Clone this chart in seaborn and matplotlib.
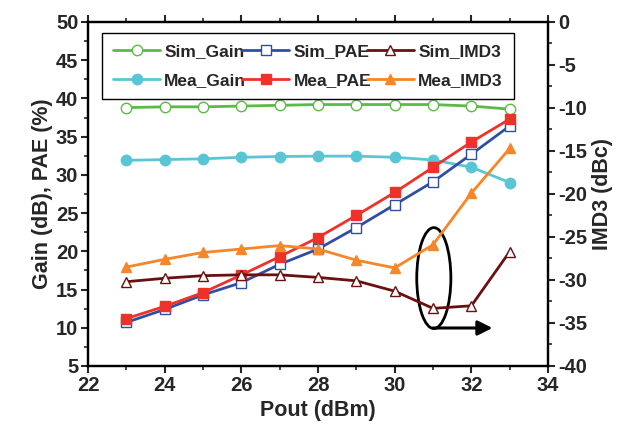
import matplotlib
matplotlib.use("Agg")
import matplotlib.pyplot as plt
import seaborn as sns
import numpy as np
import pandas as pd
from matplotlib.patches import Ellipse
from matplotlib.ticker import MultipleLocator

pout = [23, 24, 25, 26, 27, 28, 29, 30, 31, 32, 33]
sim_gain = [38.8, 38.9, 38.9, 39.0, 39.1, 39.2, 39.2, 39.2, 39.2, 39.0, 38.6]
mea_gain = [31.9, 32.0, 32.1, 32.3, 32.4, 32.45, 32.45, 32.3, 31.95, 31.0, 29.0]
sim_pae = [10.7, 12.4, 14.3, 15.9, 18.3, 20.3, 23.1, 26.1, 29.1, 32.7, 36.4]
mea_pae = [11.2, 12.8, 14.6, 16.9, 19.3, 21.8, 24.7, 27.7, 31.0, 34.3, 37.3]
sim_imd3 = [-30.2, -29.8, -29.5, -29.4, -29.4, -29.7, -30.1, -31.3, -33.3, -33.0, -26.7]
mea_imd3 = [-28.5, -27.6, -26.8, -26.4, -26.0, -26.4, -27.7, -28.6, -25.9, -19.9, -14.7]

sns.set_style("ticks")
plt.rcParams['font.family'] = ['Liberation Sans', 'DejaVu Sans']
plt.rcParams['font.weight'] = 'bold'
plt.rcParams['axes.unicode_minus'] = False

fig = plt.figure(figsize=(6.41, 4.37), dpi=100)
ax = fig.add_axes([0.1373, 0.1625, 0.7177, 0.7872])
ax2 = ax.twinx()

lw = 2.0
ms = 7.5
styles = [
    (ax, sim_gain, 'Sim_Gain', '#5cba47', 'o', False),
    (ax, mea_gain, 'Mea_Gain', '#5bc6d3', 'o', True),
    (ax, sim_pae, 'Sim_PAE', '#2f4fa6', 's', False),
    (ax, mea_pae, 'Mea_PAE', '#ee3129', 's', True),
    (ax2, sim_imd3, 'Sim_IMD3', '#6b0f0f', '^', False),
    (ax2, mea_imd3, 'Mea_IMD3', '#f5862a', '^', True),
]
handles = []
for a, vals, name, col, mk, filled in styles:
    df = pd.DataFrame({'Pout': pout, 'val': vals})
    sns.lineplot(data=df, x='Pout', y='val', ax=a, color=col, lw=lw,
                 marker=mk, markersize=ms if mk != 's' else ms - 0.5,
                 markerfacecolor=col if filled else 'white',
                 markeredgecolor=col, markeredgewidth=1.0, label=name, legend=False)
    handles.append(a.get_lines()[-1])

ax.set_xlim(22, 34)
ax.set_ylim(5, 50)
ax2.set_ylim(-40, 0)
ax.xaxis.set_major_locator(MultipleLocator(2))
ax.xaxis.set_minor_locator(MultipleLocator(1))
ax.yaxis.set_major_locator(MultipleLocator(5))
ax.yaxis.set_minor_locator(MultipleLocator(2.5))
ax2.yaxis.set_major_locator(MultipleLocator(5))
ax2.yaxis.set_minor_locator(MultipleLocator(2.5))

for a in (ax, ax2):
    for s in a.spines.values():
        s.set_linewidth(1.6)
        s.set_color('black')
ax.tick_params(axis='both', which='major', direction='out', length=5, width=1.5, labelsize=14.5, pad=2)
ax.tick_params(axis='both', which='minor', direction='out', length=3, width=1.2)
ax2.tick_params(axis='y', which='major', direction='out', length=5, width=1.5, labelsize=14.5, pad=2)
ax2.tick_params(axis='y', which='minor', direction='out', length=3, width=1.2)
ax.tick_params(axis='x', which='both', top=True, labeltop=False)
for lab in ax.get_xticklabels() + ax.get_yticklabels() + ax2.get_yticklabels():
    lab.set_fontweight('bold')

ax.set_xlabel('Pout (dBm)', fontsize=15.5, fontweight='bold', labelpad=4)
ax.set_ylabel('Gain (dB), PAE (%)', fontsize=15.5, fontweight='bold', labelpad=2)
ax2.set_ylabel('IMD3 (dBc)', fontsize=15.5, fontweight='bold', labelpad=4)

ell = Ellipse((31.02, 16.5), 0.89, 13.2, fill=False, ec='black', lw=2.0, zorder=5)
ax.add_patch(ell)
ax.annotate('', xy=(32.55, 9.97), xytext=(31.0, 9.97),
            arrowprops=dict(arrowstyle='-|>', lw=2.2, color='black', mutation_scale=22,
                            shrinkA=0, shrinkB=0), zorder=6)

leg = ax2.legend(handles=handles, labels=[h.get_label() for h in handles], ncol=3,
                 loc='upper left', bbox_to_anchor=(0.03, 0.785, 0.896, 0.183),
                 mode='expand', frameon=True, fancybox=False, framealpha=1,
                 edgecolor='black', handlelength=2.7, handletextpad=0.25,
                 columnspacing=0.3, borderpad=0.65, borderaxespad=0, labelspacing=0.75,
                 prop={'weight': 'bold', 'size': 12.5})
leg.get_frame().set_linewidth(1.0)

fig.savefig('out.png', dpi=100)
